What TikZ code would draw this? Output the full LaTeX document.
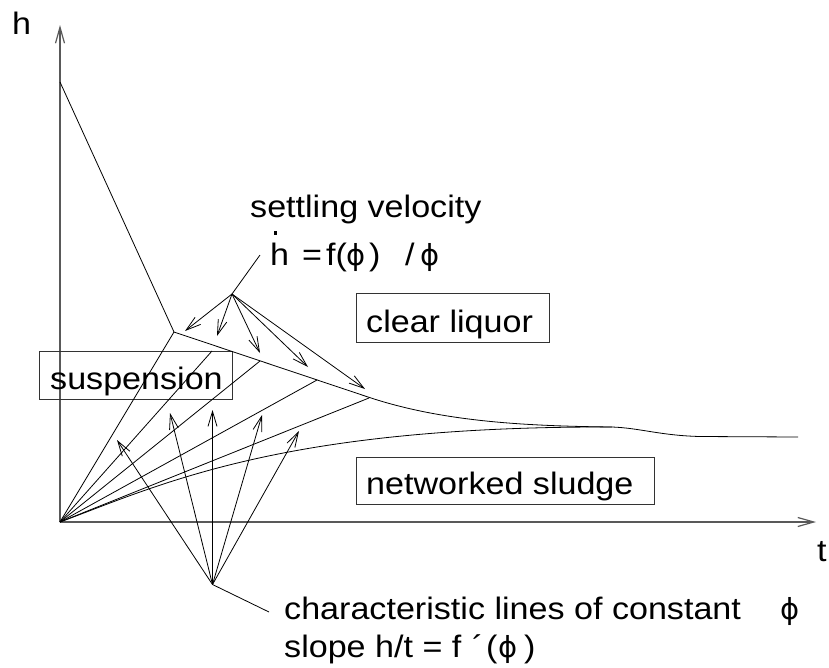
\documentclass[tikz,border=0pt]{standalone}
\usepackage{graphicx}
\usepackage{fontspec}
\setmainfont{Liberation Sans}
\newfontfamily\phif{DejaVu Sans}
\usetikzlibrary{arrows.meta}
\newcommand{\wtxt}[1]{\scalebox{1.1}[1]{#1}}
\newcommand{\phiglyph}{{\phif\fontsize{29}{34}\selectfont ϕ}}
\begin{document}
\begin{tikzpicture}[x=1pt,y=-1pt,
  ln/.style={line width=0.8pt},
  arr/.style={ln,-{Straight Barb[length=15pt,width=9pt]}},
  axis/.style={line width=1.2pt,black!65,-{Straight Barb[length=16pt,width=9pt]}},
  lab/.style={anchor=base west,inner sep=0pt,font=\fontsize{31}{36}\selectfont},
  box/.style={draw,line width=1pt,black!80,anchor=north west,inner sep=0pt}]
\useasboundingbox (0,0) rectangle (829,667);
% key points
\coordinate (O) at (60,522);
\coordinate (YT) at (60,25);
\coordinate (XT) at (816,522);
\coordinate (H0) at (60,82);
\coordinate (K) at (174,332);
\coordinate (U) at (368,397);
\coordinate (M) at (612,427);
\coordinate (E) at (798,437);
% axes
\draw[axis] (O) -- (YT);
\draw[axis] (O) -- (XT);
% boxes
\node[box,minimum width=193,minimum height=48] (bsus) at (39,351) {};
\node[box,minimum width=193,minimum height=49] (bcl) at (356,293) {};
\node[box,minimum width=298,minimum height=47] (bns) at (356,457) {};
% interface curves
\draw[ln] (H0) -- (K) -- (U) .. controls (440,421) and (520,426) .. (M)
  .. controls (640,428) and (660,435.5) .. (700,436.5) -- (E);
\draw[ln] (O) .. controls (160,485) and (280,426) .. (M);
% characteristic lines
\coordinate (c1) at (212,351);
\coordinate (c2) at (260,361);
\coordinate (c3) at (317,380);
\coordinate (c4) at (369,398);
\draw[ln] (O) -- (K);
\draw[ln] (O) -- (c1);
\draw[ln] (O) -- (c2);
\draw[ln] (O) -- (c3);
\draw[ln] (O) -- (c4);
% upper fan
\coordinate (A) at (232,294);
\coordinate (Al) at (260,255);
\coordinate (a1) at (185,331);
\coordinate (a2) at (217,336);
\coordinate (a3) at (260,353);
\coordinate (a4) at (308,367);
\coordinate (a5) at (365,389);
\draw[ln] (A) -- (Al);
\foreach \t in {a1,a2,a3,a4,a5} \draw[arr] (A) -- (\t);
% lower fan
\coordinate (B) at (212.5,584.5);
\coordinate (Bl) at (269,612);
\coordinate (b1) at (117,440);
\coordinate (b2) at (170,413);
\coordinate (b3) at (212.5,410);
\coordinate (b4) at (262,415);
\coordinate (b5) at (299,431);
\draw[ln] (B) -- (Bl);
\foreach \t in {b1,b2,b3,b4,b5} \draw[arr] (B) -- (\t);
% labels
\node[lab] (hl) at (12,34) {\wtxt{h}};
\node[lab] (tl) at (817,561) {\wtxt{t}};
\node[lab] (sus) at (50,389) {\wtxt{suspension}};
\node[lab] (clq) at (366,332) {\wtxt{clear liquor}};
\node[lab] (nsl) at (366,494) {\wtxt{networked sludge}};
\node[lab] (sv) at (250,217) {\wtxt{settling velocity}};
\node[lab] (eh) at (270,265) {\wtxt{h}};
\fill (273.5,231) rectangle (277,234.5);
\node[lab] (eeq) at (302,265) {\wtxt{=}};
\node[lab] (ef) at (326,265) {\wtxt{f(}};
\node[lab] (ephi) at (346,265) {\phiglyph};
\node[lab] (ecl) at (369,265) {\wtxt{)}};
\node[lab] (esl) at (405,265) {\wtxt{/}};
\node[lab] (ephi2) at (420,265) {\phiglyph};
\node[lab] (ch1) at (284,619) {\wtxt{characteristic lines of constant}};
\node[lab] (chphi) at (780,619) {\phiglyph};
\node[lab] (ch2) at (284,657) {\wtxt{slope h/t = f}};
\node[lab] (chpr) at (472,657) {\wtxt{´}};
\node[lab] (chop) at (486,657) {\wtxt{(}};
\node[lab] (chphi2) at (498,657) {\phiglyph};
\node[lab] (chcl) at (524,657) {\wtxt{)}};
\end{tikzpicture}
\end{document}
